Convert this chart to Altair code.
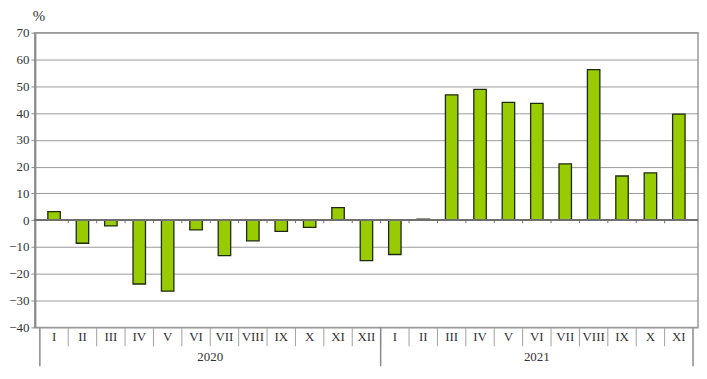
import altair as alt
import pandas as pd

months = ["I", "II", "III", "IV", "V", "VI", "VII", "VIII", "IX", "X", "XI", "XII",
          "I", "II", "III", "IV", "V", "VI", "VII", "VIII", "IX", "X", "XI"]
years = ["2020"] * 12 + ["2021"] * 11
values = [3.2, -8.6, -2.1, -23.8, -26.5, -3.6, -13.2, -7.7, -4.2, -2.7, 4.7, -15.1,
          -12.8, 0.4, 46.8, 48.8, 44.0, 43.6, 21.0, 56.2, 16.5, 17.7, 39.6]
y_ticks = [-40, -30, -20, -10, 0, 10, 20, 30, 40, 50, 60, 70]

FONT = "Times New Roman, Liberation Serif, serif"
n = len(months)
df = pd.DataFrame({"month": months, "year": years, "value": values})
df["idx"] = range(n)
df["center"] = df["idx"] + 0.5
df["z"] = 0

bounds = pd.DataFrame({"b": list(range(n + 1))})
inner = bounds[(bounds.b > 0) & (bounds.b < n)]
year_starts = [0] + [i for i in range(1, n) if years[i] != years[i - 1]] + [n]
ybounds = pd.DataFrame({"b": year_starts})
yr = df.groupby("year", as_index=False)["center"].mean()

W, H = 666, 296
xs = alt.Scale(domain=[0, n], nice=False, zero=False)
ys = alt.Scale(domain=[-40, 70], nice=False)
yaxis = alt.Axis(values=y_ticks, grid=True, gridColor="#9a9a9a",
                 gridWidth=1, domainColor="#8a8a8a", domainWidth=2,
                 tickColor="#8a8a8a", tickSize=4, labelPadding=2,
                 labelFont=FONT, labelFontSize=13, labelColor="#333333",
                 title=None)

bars = alt.Chart(df).mark_bar(width=12.5, color="#99CC00", stroke="#1e2a10",
                              strokeWidth=1.3).encode(
    x=alt.X("center:Q", scale=xs, axis=None),
    y=alt.Y("value:Q", scale=ys, axis=yaxis),
    y2=alt.Y2("z:Q"),
)

zero = alt.Chart(df).mark_rule(color="#707070", strokeWidth=1).encode(
    y=alt.Y("z:Q", scale=ys, axis=yaxis),
)

zticks = alt.Chart(inner).mark_rule(color="#707070", strokeWidth=1).encode(
    x=alt.X("b:Q", scale=xs, axis=None),
    y=alt.value(H * 70 / 110),
    y2=alt.value(H * 70 / 110 + 3),
)

msep = alt.Chart(inner).mark_rule(color="#a0a0a0", strokeWidth=1).encode(
    x=alt.X("b:Q", scale=xs, axis=None),
    y=alt.value(H),
    y2=alt.value(H + 19),
)

ysep = alt.Chart(ybounds).mark_rule(color="#8a8a8a", strokeWidth=1.5).encode(
    x=alt.X("b:Q", scale=xs, axis=None),
    y=alt.value(H),
    y2=alt.value(H + 39),
)

mlabels = alt.Chart(df).mark_text(font=FONT, fontSize=13, color="#333333",
                                  baseline="middle").encode(
    x=alt.X("center:Q", scale=xs, axis=None),
    y=alt.value(H + 10),
    text="month:N",
)

ylabels = alt.Chart(yr).mark_text(font=FONT, fontSize=13, color="#333333",
                                  baseline="middle").encode(
    x=alt.X("center:Q", scale=xs, axis=None),
    y=alt.value(H + 30),
    text="year:N",
)

pct = alt.Chart(yr).mark_text(font=FONT, fontSize=15, color="#333333",
                              baseline="middle", text="%").encode(
    x=alt.value(4),
    y=alt.value(-17),
).transform_filter("datum.year == '2020'")

chart = alt.layer(bars, zero, zticks, msep, ysep, mlabels, ylabels, pct).properties(
    width=W, height=H,
    padding={"left": 0, "top": 0, "right": 0, "bottom": 0},
).configure_view(stroke="#9a9a9a", strokeWidth=1.5)

chart.save("out.html", embed_options={"renderer": "svg", "actions": False})
